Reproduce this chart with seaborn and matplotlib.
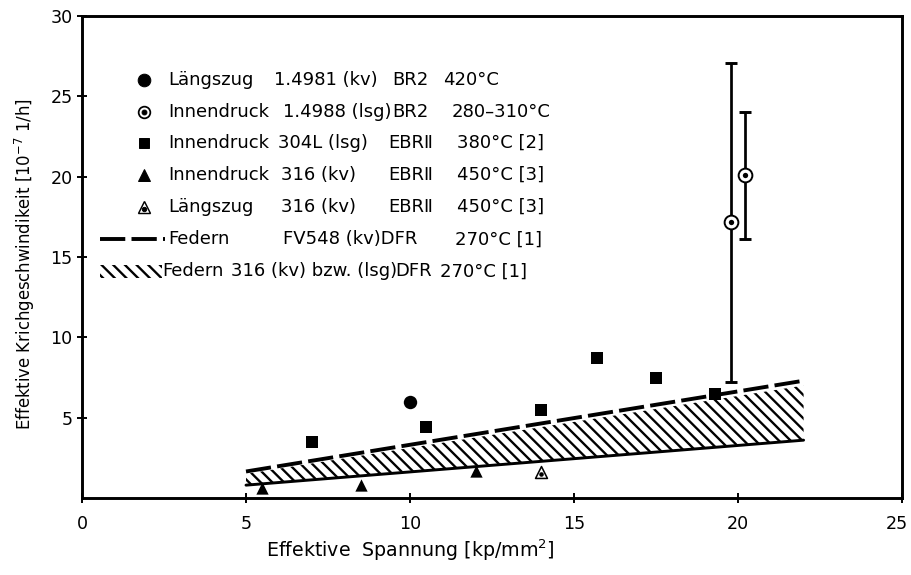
import matplotlib
matplotlib.use("Agg")
import matplotlib.pyplot as plt
import matplotlib.transforms as mtransforms
import numpy as np
import seaborn as sns
from matplotlib.patches import Rectangle

# Längszug 1.4981 (kv), BR2 420 °C
laengs4981_x = [10.0]
laengs4981_y = [6.0]
# Innendruck 1.4988 (lsg), BR2 280-310 °C, with scatter range
innen4988_x = [19.8, 20.2]
innen4988_y = [17.2, 20.1]
innen4988_lo = [7.2, 16.1]
innen4988_hi = [27.1, 24.0]
# Innendruck 304L (lsg), EBR II 380 °C [2]
innen304_x = [7.0, 10.5, 14.0, 15.7, 17.5, 19.3]
innen304_y = [3.5, 4.4, 5.5, 8.7, 7.5, 6.5]
# Innendruck 316 (kv), EBR II 450 °C [3]
innen316_x = [5.5, 8.5, 12.0]
innen316_y = [0.65, 0.8, 1.7]
# Längszug 316 (kv), EBR II 450 °C [3]
laengs316_x = [14.0]
laengs316_y = [1.6]
# Federn FV548 (kv), DFR 270 °C [1]
fv548_x = [5.0, 22.0]
fv548_y = [1.65, 7.3]
# Federn 316 (kv) bzw. (lsg), DFR 270 °C [1] -- scatter band
band_x = [5.0, 22.0]
band_lo = [0.8, 3.6]
band_hi = [1.5, 7.0]

x_ticks = [0, 5, 10, 15, 20, 25]
y_ticks = [5, 10, 15, 20, 25, 30]

# legend text, one row per series, split into aligned columns
legend_rows = [
    ["Längszug", "1.4981 (kv)", "BR2", "420°C"],
    ["Innendruck", "1.4988 (lsg)", "BR2", "280–310°C"],
    ["Innendruck", "304L (lsg)", "EBRⅡ", "380°C [2]"],
    ["Innendruck", "316 (kv)", "EBRⅡ", "450°C [3]"],
    ["Längszug", "316 (kv)", "EBRⅡ", "450°C [3]"],
    ["Federn", "FV548 (kv)DFR", "270°C [1]"],
    ["Federn", "316 (kv) bzw. (lsg)", "DFR", "270°C [1]"],
]
legend_cols = [
    [2.62, 5.85, 9.45, 11.01],
    [2.62, 6.13, 9.45, 11.28],
    [2.62, 5.97, 9.33, 11.43],
    [2.62, 6.08, 9.33, 11.43],
    [2.62, 6.08, 9.33, 11.43],
    [2.62, 6.13, 11.37],
    [2.45, 4.55, 9.55, 10.90],
]
legend_y = [26.0, 24.0, 22.1, 20.1, 18.1, 16.1, 14.1]
legend_marker_x = 1.89

DPI = 70
sns.set_style("ticks")
plt.rcParams["font.family"] = ["DejaVu Sans"]
plt.rcParams["text.color"] = "black"
plt.rcParams["axes.labelcolor"] = "black"
plt.rcParams["hatch.linewidth"] = 2.4
plt.rcParams["hatch.color"] = "black"

fig = plt.figure(figsize=(911 / DPI, 575 / DPI), dpi=DPI)
ax = fig.add_axes([82 / 911, 1 - 498 / 575, 820 / 911, 482 / 575])

# band of spring results
ax.fill_between(band_x, band_lo, band_hi, facecolor="none", edgecolor="black",
                hatch="\\\\", linewidth=0)
sns.lineplot(x=band_x, y=band_lo, ax=ax, color="black", linewidth=3.0)
sns.lineplot(x=fv548_x, y=fv548_y, ax=ax, color="black", linewidth=4.0)
ax.lines[-1].set_dashes([6.5, 1.6])
ax.lines[-1].set_solid_capstyle("butt")

# scatter ranges of the pressurised tubes
yerr = [np.array(innen4988_y) - np.array(innen4988_lo),
        np.array(innen4988_hi) - np.array(innen4988_y)]
ax.errorbar(innen4988_x, innen4988_y, yerr=yerr, fmt="none", ecolor="black",
            elinewidth=2.8, capsize=6.5, capthick=3.0, zorder=3)

sns.scatterplot(x=laengs4981_x, y=laengs4981_y, ax=ax, marker="o", s=190,
                color="black", linewidth=0, zorder=5)
sns.scatterplot(x=innen4988_x, y=innen4988_y, ax=ax, marker="o", s=200,
                facecolor="white", edgecolor="black", linewidth=2.0, zorder=5)
sns.scatterplot(x=innen4988_x, y=innen4988_y, ax=ax, marker="o", s=30,
                color="black", linewidth=0, zorder=6)
sns.scatterplot(x=innen304_x, y=innen304_y, ax=ax, marker="s", s=140,
                color="black", linewidth=0, zorder=5)
sns.scatterplot(x=innen316_x, y=innen316_y, ax=ax, marker="^", s=160,
                color="black", linewidth=0, zorder=5)
sns.scatterplot(x=laengs316_x, y=laengs316_y, ax=ax, marker="^", s=150,
                facecolor="white", edgecolor="black", linewidth=1.6, zorder=5)
sns.scatterplot(x=laengs316_x, y=[v - 0.1 for v in laengs316_y], ax=ax,
                marker="o", s=22, color="black", linewidth=0, zorder=6)

# legend block
fs_leg = 18.5
for row, cols, yy in zip(legend_rows, legend_cols, legend_y):
    for txt, xx in zip(row, cols):
        ax.text(xx, yy, txt, fontsize=fs_leg, ha="left", va="center",
                color="black")

mk = dict(color="black", linestyle="none", clip_on=False)
ax.plot([legend_marker_x], [legend_y[0]], marker="o", markersize=13, **mk)
ax.plot([legend_marker_x], [legend_y[1]], marker="o", markersize=12,
        markerfacecolor="white", markeredgecolor="black", markeredgewidth=1.8,
        linestyle="none")
ax.plot([legend_marker_x], [legend_y[1]], marker="o", markersize=5, **mk)
ax.plot([legend_marker_x], [legend_y[2]], marker="s", markersize=11, **mk)
ax.plot([legend_marker_x], [legend_y[3]], marker="^", markersize=13, **mk)
ax.plot([legend_marker_x], [legend_y[4]], marker="^", markersize=12,
        markerfacecolor="white", markeredgecolor="black", markeredgewidth=1.5,
        linestyle="none")
ax.plot([legend_marker_x], [legend_y[4] - 0.1], marker="o", markersize=4.5, **mk)
ax.plot([0.55, 2.53], [legend_y[5], legend_y[5]], color="black", linewidth=4.0,
        dashes=[6.5, 1.6], solid_capstyle="butt")
ax.add_patch(Rectangle((0.55, legend_y[6] - 0.42), 1.9, 0.84, facecolor="none",
                       edgecolor="black", hatch="\\\\", linewidth=0))

# axes, ticks and frame
ax.set_xlim(0, 25)
ax.set_ylim(0, 30)
ax.set_xticks(x_ticks)
ax.set_yticks(y_ticks)
ax.set_xticklabels([str(t) for t in x_ticks])
ax.set_yticklabels([str(t) for t in y_ticks])
ax.tick_params(direction="inout", length=11, width=2.0, labelsize=18,
               colors="black")
ax.tick_params(axis="x", pad=12)
ax.tick_params(axis="y", pad=4)
for side in ["left", "right", "top", "bottom"]:
    ax.spines[side].set_visible(True)
    ax.spines[side].set_linewidth(3.0)
    ax.spines[side].set_color("black")

# keep the last x tick label inside the figure
last = ax.get_xticklabels()[-1]
last.set_transform(last.get_transform() +
                   mtransforms.ScaledTranslation(-5 / DPI, 0, fig.dpi_scale_trans))

ax.set_xlabel("Effektive  Spannung [kp/mm$^2$]", fontsize=19.5)
ax.set_ylabel("Effektive Krichgeschwindikeit [10$^{-7}$ 1/h]", fontsize=17)
ax.xaxis.set_label_coords(0.40, -0.082)
ax.yaxis.set_label_coords(-0.055, 0.485)

fig.savefig("out.png", dpi=DPI, facecolor="white")
